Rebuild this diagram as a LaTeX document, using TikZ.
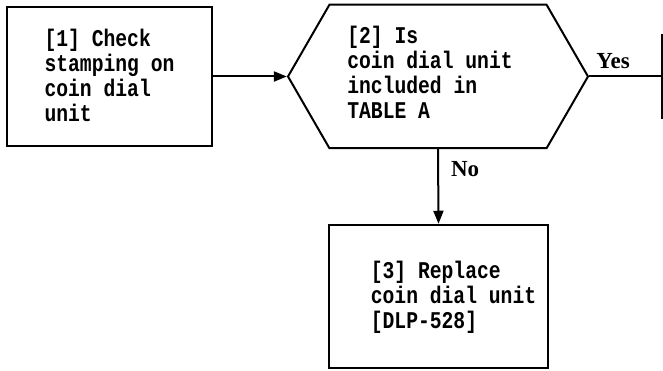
\documentclass[tikz,border=0pt]{standalone}
\usepackage{fontspec}
\usepackage{tikz}
\usetikzlibrary{shapes.geometric, shapes.symbols, arrows.meta, positioning, calc}
\newfontfamily\boxfont{Liberation Mono}[FakeStretch=0.82]
\newfontfamily\labelfont{Liberation Serif}
\tikzstyle{process} = [rectangle, draw=black, line width=2pt, inner sep=0pt]
\tikzstyle{decision} = [signal, signal to=east and west, signal pointer angle=120, draw=black, line width=2pt, inner sep=0pt]
\tikzstyle{boxtext} = [align=left, inner sep=0pt, font=\boxfont\bfseries\fontsize{24}{25}\selectfont]
\tikzstyle{answer} = [inner sep=0pt, font=\labelfont\bfseries\fontsize{23}{23}\selectfont]
\tikzstyle{arrow} = [line width=2pt, -{Triangle[length=13pt,width=10pt]}]

\begin{document}
\begin{tikzpicture}[x=1pt, y=1pt]
    \useasboundingbox (0,0) rectangle (663,371);
    % Check box
    \node (check) [process, minimum width=205pt, minimum height=139pt] at (109.5,294.5) {};
    \node (checktext) [boxtext] at (109.5,296) {[1] Check\\stamping on\\coin dial\\unit};
    % Decision
    \node (table) [decision, minimum width=300pt, minimum height=143.5pt] at (438,294.5) {};
    \node (tabletext) [boxtext] at (430,298.5) {[2] Is\\coin dial unit\\included in\\TABLE A};
    % Replace box
    \node (replace) [process, minimum width=219pt, minimum height=143.5pt] at (438.5,74.5) {};
    \node (replacetext) [boxtext] at (453.5,74) {[3] Replace\\coin dial unit\\{[DLP-528]}};
    % Next step (cut off at the edge)
    \node (next) [process, line width=2.5pt, anchor=west, minimum width=60pt, minimum height=82pt] at (661,294.5) {};
    
    % Arrows
    \draw [arrow] (check.east) -- (table.west);
    \draw [line width=2pt] (table.east) -- node[answer, above=7pt, xshift=-12pt] {Yes} (next.west);
    \draw [arrow] (table.south) -- node[answer, right=12pt, pos=0.27] {No} (replace.north);
\end{tikzpicture}
\end{document}
